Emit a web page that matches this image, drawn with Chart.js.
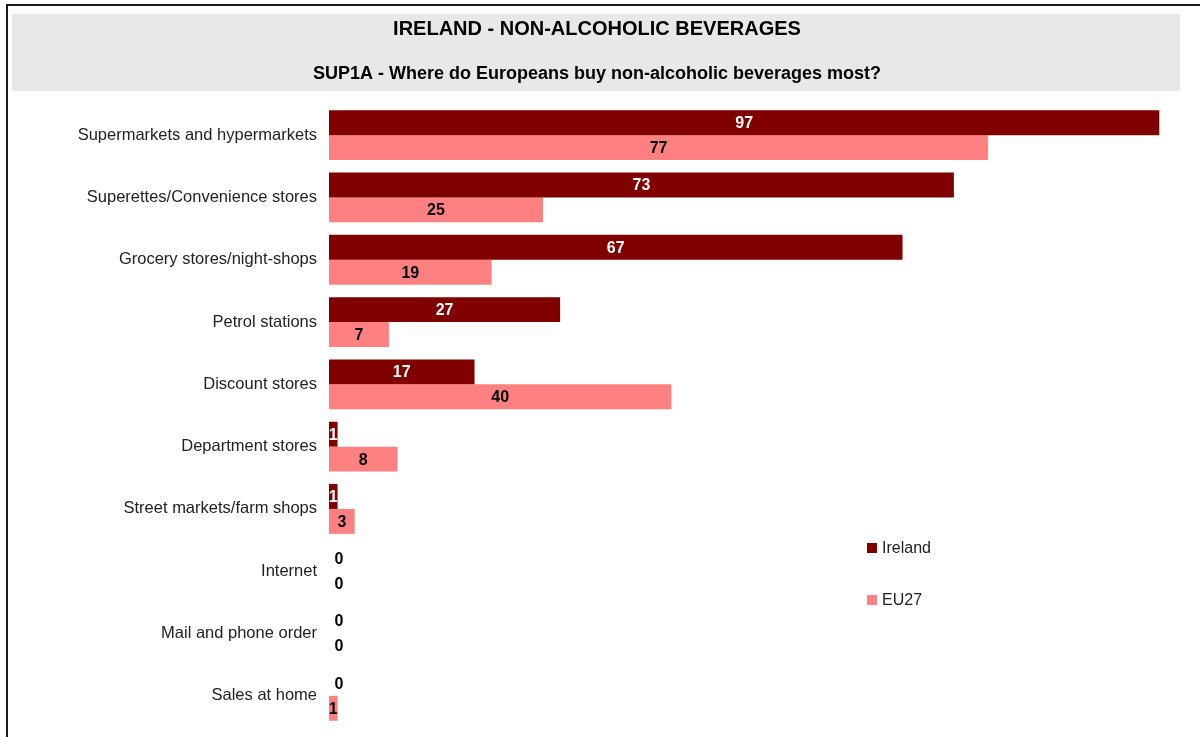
<html>
<head>
  <meta name="viewport" content="width=device-width, initial-scale=1">
  <script type="text/javascript" src="https://cdn.jsdelivr.net/npm/chart.js@4/dist/chart.umd.min.js"></script>
  <style>
    body { margin: 0; background: #fff; overflow: hidden; }
    #ctx { position: absolute; left: 0; top: 0; }
  </style>
</head>
<body>
  <canvas id="ctx" width="1200" height="737"></canvas>

  <script type="text/javascript">
    // data
    var categories = [
      "Supermarkets and hypermarkets",
      "Superettes/Convenience stores",
      "Grocery stores/night-shops",
      "Petrol stations",
      "Discount stores",
      "Department stores",
      "Street markets/farm shops",
      "Internet",
      "Mail and phone order",
      "Sales at home"
    ];
    var ireland = [97, 73, 67, 27, 17, 1, 1, 0, 0, 0];
    var eu27 = [77, 25, 19, 7, 40, 8, 3, 0, 0, 1];

    var title = "IRELAND - NON-ALCOHOLIC BEVERAGES";
    var subtitle = "SUP1A - Where do Europeans buy non-alcoholic beverages most?";

    var FONT = "'Liberation Sans', Arial, sans-serif";

    // frame + grey title box
    var framePlugin = {
      id: 'frame',
      beforeDraw: function(c) {
        var g = c.ctx;
        g.save();
        g.fillStyle = "#fff";
        g.fillRect(0, 0, c.width, c.height);
        g.fillStyle = "#1a1a1a";
        g.fillRect(6, 4, 1200, 2);
        g.fillRect(6, 4, 2, 737);
        g.fillStyle = "#e8e8e8";
        g.fillRect(12, 14, 1168, 77);
        g.fillStyle = "#000";
        g.textAlign = "center";
        g.textBaseline = "middle";
        g.font = "bold 20px " + FONT;
        g.fillText(title, 597, 29);
        g.font = "bold 18px " + FONT;
        g.fillText(subtitle, 597, 74);
        g.restore();
      }
    };

    // value labels in the bars, and the legend
    var labelPlugin = {
      id: 'vals',
      afterDatasetsDraw: function(c) {
        var g = c.ctx;
        var xs = c.scales.x;
        g.save();
        g.font = "bold 16px " + FONT;
        g.textAlign = "center";
        g.textBaseline = "middle";
        c.data.datasets.forEach(function(ds, di) {
          var meta = c.getDatasetMeta(di);
          meta.data.forEach(function(bar, i) {
            var v = ds.data[i];
            var x0 = xs.getPixelForValue(0);
            var x = v == 0 ? x0 + 10 : (x0 + bar.x) / 2;
            g.fillStyle = (di == 0 && v > 0) ? "#fff" : "#000";
            g.fillText(String(v), x, bar.y + 1);
          });
        });
        // legend
        var ly = [548, 600];
        g.font = "16px " + FONT;
        g.textAlign = "left";
        c.data.datasets.forEach(function(ds, di) {
          g.fillStyle = ds.backgroundColor;
          g.fillRect(867, ly[di] - 5, 10, 10);
          g.fillStyle = "#222";
          g.fillText(ds.label, 882, ly[di] + 1);
        });
        g.restore();
      }
    };

    chart = new Chart(document.getElementById("ctx"), {
      type: 'bar',
      data: {
        labels: categories,
        datasets: [{
          label: "Ireland",
          data: ireland,
          backgroundColor: "#800000",
          categoryPercentage: 0.8,
          barPercentage: 1.0
        }, {
          label: "EU27",
          data: eu27,
          backgroundColor: "#ff8080",
          categoryPercentage: 0.8,
          barPercentage: 1.0
        }]
      },
      options: {
        indexAxis: 'y',
        responsive: false,
        maintainAspectRatio: false,
        devicePixelRatio: 1,
        animation: false,
        layout: {
          padding: { left: 0, right: 15, top: 104, bottom: 10 }
        },
        plugins: {
          legend: { display: false },
          tooltip: { enabled: false }
        },
        scales: {
          x: {
            display: false,
            min: 0,
            max: 100
          },
          y: {
            grid: { display: false, drawTicks: false },
            border: { display: false },
            ticks: {
              color: "#222",
              padding: 12,
              font: { family: FONT, size: 16.5 }
            },
            afterFit: function(s) {
              s.width = 329;
              s.paddingTop = 0;
              s.paddingBottom = 0;
            }
          }
        }
      },
      plugins: [framePlugin, labelPlugin]
    });
  </script>
</body>
</html>
